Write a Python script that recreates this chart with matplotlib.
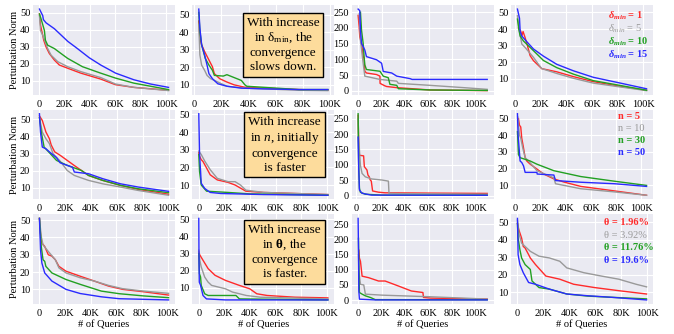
import matplotlib

matplotlib.use("Agg")
import matplotlib.pyplot as plt

# ---- dados: (consultas em milhares, norma da perturbação) ----
# linha 1: variação de delta_min
dmin_a_red = [(0, 49.4), (0.9, 42.6), (2.6, 36.8), (3.4, 33.9), (5.2, 30), (7.8, 26.1), (11.8, 22.2),
              (15.7, 19.3), (22.3, 17.4), (32.7, 14.5), (48.4, 11), (60, 7.7), (74.6, 6.1), (102, 4.4)]
dmin_a_gray = [(0, 48.4), (0.8, 39.7), (2.6, 36.8), (6.5, 29), (9.2, 25.1), (14.4, 21.3), (22.3, 18.3),
               (32.7, 15.4), (48.4, 11.9), (60, 8.1), (74.6, 6.1), (102, 4.2)]
dmin_a_green = [(0, 49.4), (1.3, 46.5), (3.9, 39.7), (4.7, 33.9), (6.5, 31), (11.8, 29), (17, 26.1),
                (22.3, 23.2), (34, 18.3), (48.4, 14.5), (60, 11.6), (74.6, 8.6), (102, 4.8)]
dmin_a_blue = [(0, 52.3), (2.6, 48.4), (3.1, 46.1), (5.2, 44.2), (11.8, 40.7), (22.3, 33.3), (30, 29),
               (39.3, 23.6), (48.4, 19.3), (60.2, 14.5), (74.6, 10.6), (87.7, 8.1), (102, 6.1)]

dmin_b_red = [(3.2, 46.5), (4, 36.8), (5.3, 32.9), (7.5, 29), (10.7, 24.2), (13.3, 20.3), (14.7, 16.4),
              (18.7, 13.5), (24, 11.6), (29.3, 10), (37.3, 8.6), (50.7, 8.1), (77.3, 7.3), (98.7, 6.9)]
dmin_b_gray = [(3.2, 44.6), (4, 27.1), (5.3, 21.3), (7.5, 18.3), (9.3, 15.4), (12, 13.5), (17.3, 11.6),
               (24, 9.2), (37.3, 8.1), (77.3, 6.9), (98.7, 6.7)]
dmin_b_green = [(3.2, 51.4), (4, 40.7), (5.3, 32.9), (8, 25.1), (10.7, 21.3), (13.3, 18.3), (14.7, 15.4),
                (21.3, 15), (24, 15.8), (34.7, 12.5), (37.3, 10), (38.7, 9.2), (50.7, 8.6), (77.3, 7.3),
                (98.7, 7.3)]
dmin_b_blue = [(3.2, 53.3), (4, 42.6), (5.3, 32.9), (7.5, 27.1), (9.3, 21.3), (10.7, 16.4), (13.3, 13.5),
               (17.3, 10.6), (24, 9.2), (34.7, 8.1), (50.7, 7.7), (77.3, 7.3), (98.7, 7.3)]

dmin_c_red = [(0, 240), (0.9, 203), (1.4, 172), (2.9, 151), (4.3, 109), (5.1, 104), (5.7, 62.5), (7.1, 57),
              (15.7, 52), (18.6, 47), (18.7, 24), (22.9, 16), (24.3, 14), (32.9, 10.4), (61.4, 3), (110, 1)]
dmin_c_gray = [(0.9, 245), (2, 161), (4.3, 88), (5.7, 47), (18.6, 36.5), (32.9, 31), (34.3, 24),
               (61.4, 17.7), (90, 10.4), (110, 5)]
dmin_c_green = [(2, 250), (2.9, 193), (4.3, 151), (5.1, 109), (5.7, 83), (7.1, 68), (18.6, 62.5),
                (21.4, 47), (25.7, 42), (27.1, 21), (32.9, 17.7), (34.3, 7), (61.4, 3), (110, 1.5)]
dmin_c_blue = [(0, 260), (1.4, 255), (2, 193), (2.9, 151), (4.3, 141), (5.7, 130), (7.1, 109), (15.7, 99),
               (20, 88), (21.4, 62), (28.6, 57), (32.9, 47), (44.3, 39), (46, 36.5), (110, 36.5)]

dmin_d_red = [(2.6, 40.6), (4.4, 38.7), (5.2, 35.8), (6.2, 38.5), (7.8, 34.8), (9.6, 30), (11.7, 24),
              (14.3, 21), (20.8, 16.2), (32.5, 14.3), (45.5, 11.4), (61, 8.4), (79.2, 5.9), (102.6, 3.2)]
dmin_d_gray = [(1.8, 48), (3.4, 38.7), (5.2, 31), (7.8, 28.9), (14.3, 23), (18.2, 18.8), (20.8, 16.2),
               (32.5, 13.3), (45.5, 10.4), (61, 7.5), (79.2, 5.5), (102.6, 3)]
dmin_d_green = [(1.8, 46), (2.9, 39.7), (3.9, 35.8), (6.5, 32.8), (14.3, 27), (22.1, 21.1), (32.5, 16.8),
                (45.5, 12.9), (61, 9), (79.2, 6.5), (102.6, 3.2)]
dmin_d_blue = [(1.8, 52), (3.4, 46.5), (3.9, 38.7), (5.2, 35.8), (9.1, 32.4), (14.3, 28), (22.1, 23.7),
               (32.5, 18.8), (45.5, 14.9), (61, 11), (79.2, 8), (102.6, 4.1)]

# linha 2: variação de n
n_a_red = [(0, 52), (2.2, 49.4), (5, 42.6), (7.7, 38.7), (9.1, 35), (11.8, 31), (16, 29), (21.5, 26),
           (27, 23), (32.5, 20.1), (38, 17.2), (49, 14.3), (62.8, 11.4), (76.6, 9), (100, 6.2)]
n_a_gray = [(0, 51), (2.2, 42.6), (5, 38.7), (7.7, 35.8), (10.5, 30), (16, 25.6), (21.5, 20.1), (27, 17.2),
            (38, 14.3), (49, 12.3), (62.8, 10.4), (76.6, 8.4), (100, 5.6)]
n_a_green = [(0, 51), (1.4, 42.6), (3.6, 33.8), (7.7, 30.5), (13.2, 26), (21.5, 23.1), (32.5, 20.1),
             (38, 17.2), (49, 14.3), (62.8, 11.4), (76.6, 9.4), (100, 7.1)]
n_a_blue = [(0, 53.3), (0.8, 42.6), (2.2, 33.8), (5, 32.8), (7.7, 31), (13.2, 27.6), (16, 24.6),
            (21.5, 23.1), (25.6, 22), (27, 19.2), (38, 18.2), (49, 15.3), (62.8, 12.3), (76.6, 10.4),
            (100, 7.9)]

n_b_red = [(0, 28.3), (0.6, 26.3), (1.9, 24.4), (3.3, 23.3), (6.1, 19.6), (8.9, 15.8), (14.4, 12.9),
           (22.8, 11.5), (28.3, 10), (36.7, 6.5), (50.6, 5.8), (100.6, 4.6)]
n_b_gray = [(0, 29.2), (1.9, 27.3), (4.7, 23.5), (8.9, 18.7), (14.4, 13.8), (22.8, 11.9), (28.3, 11.9),
            (32.5, 10), (36.7, 7.1), (50.6, 5.8), (100.6, 4.6)]
n_b_green = [(0, 27.3), (0.6, 17.7), (1.9, 10), (6.1, 6.5), (22.8, 5.8), (39.4, 5), (100.6, 4.2)]
n_b_blue = [(0, 50.4), (0.6, 27.3), (1.4, 17.7), (1.9, 11), (4.7, 8), (8.9, 5.8), (17.2, 5.2), (50.6, 4.6),
            (100.6, 4.2)]

n_c_red = [(1.7, 261), (2.2, 164), (2.8, 131), (6.3, 129), (6.9, 94), (9.1, 83), (9.9, 67), (11, 61),
           (11.8, 51), (12.7, 47), (13.8, 15), (18.7, 11), (24.2, 9), (62.8, 8), (109.6, 7)]
n_c_gray = [(1.7, 250), (2.2, 185), (3.6, 99), (5, 72), (7.7, 61), (13, 54), (21.5, 50.6), (27, 47),
            (27.5, 7.5), (35, 6.5), (109.6, 4.3)]
n_c_green = [(1.7, 266), (1.9, 185), (2.2, 99), (2.8, 23.7), (3.6, 10.8), (7.7, 4.3), (21.5, 1.5),
             (109.6, 1)]
n_c_blue = [(1.7, 190), (2.2, 88), (2.8, 18), (5, 7.5), (13, 1.5), (109.6, 1)]

n_d_red = [(2.7, 50), (3.5, 46), (4.5, 45), (5.3, 38.3), (6.7, 32.4), (8, 26.6), (9.3, 24.6), (12, 22.7),
           (17.3, 19.8), (22.7, 16.8), (30.7, 13.9), (38.7, 12), (52, 9.4), (78.7, 6.7), (104, 4.1)]
n_d_gray = [(2.1, 51), (3.5, 40.2), (4.5, 38.3), (6.1, 32.4), (8, 26.6), (10.7, 24.6), (17.3, 18.8),
            (30.7, 14.5), (32, 11), (38.7, 10), (52, 8), (78.7, 6.1), (104, 4.1)]
n_d_green = [(1.9, 42.2), (2.7, 28.5), (4, 26.6), (12, 24.6), (17.3, 22.7), (30.7, 18.8), (52, 15.3),
             (78.7, 12.5), (104, 10)]
n_d_blue = [(1.9, 52.9), (2.4, 40.2), (3.5, 29.5), (4, 24.6), (5.3, 23.7), (6.7, 21.7), (8, 17.8),
            (17.3, 17.8), (17.5, 16.8), (30.7, 16.2), (32, 12.9), (52, 11.9), (78.7, 11), (104, 9.4)]

# linha 3: variação de theta
th_a_red = [(0, 51), (0.8, 42.4), (1.9, 36.7), (4.1, 34.8), (6.9, 30), (9.7, 29.2), (12.4, 27.1),
            (15.2, 23.3), (20.7, 20.5), (31.8, 17.6), (42.8, 14.8), (53.9, 11.9), (64.9, 10),
            (81.5, 8.6), (100.8, 6.7)]
th_a_gray = [(0, 51), (1.4, 40.5), (2.8, 35.7), (6.9, 31.9), (12.4, 27.1), (15.2, 22.4), (20.7, 19.5),
             (31.8, 16.7), (42.8, 14.8), (53.9, 12.3), (64.9, 10.4), (81.5, 9), (100.8, 7.7)]
th_a_green = [(0, 51), (1.4, 34.8), (2.8, 27.1), (4.1, 26.2), (5, 23.3), (9.7, 19.5), (20.7, 15.7),
              (31.8, 12.9), (48.3, 9), (62.2, 7.5), (81.5, 6.2), (100.8, 5.2)]
th_a_blue = [(0, 51), (0.8, 32.9), (1.9, 25.2), (4.1, 19.5), (9.7, 14.8), (20.7, 10), (31.8, 7.6),
             (48.3, 5.7), (62.2, 4.6), (100.8, 3.9)]

th_b_red = [(0, 31), (0.8, 29.2), (3.3, 26.1), (7.3, 21.2), (12.7, 17.3), (20.9, 14.3), (31.7, 11.4),
            (39.8, 9.4), (45.3, 6.5), (53.4, 5.5), (75, 4.5), (100.8, 4.1)]
th_b_gray = [(0, 32), (0.8, 26.1), (1.9, 22.2), (4.6, 16.3), (7.3, 13.3), (10, 11.4), (20.9, 9.4),
             (26.3, 7.5), (37.1, 5.5), (48, 4.5), (100.8, 3.5)]
th_b_green = [(0, 30), (0.5, 18.2), (1.4, 16.3), (1.9, 11.4), (4.6, 6.5), (7.3, 5.5), (29, 5.5),
              (31.7, 3.5), (100.8, 2.9)]
th_b_blue = [(0, 50.6), (0.2, 24.1), (0.4, 13.3), (1.4, 11.4), (3.3, 5.5), (6, 3.5), (20.9, 2.9),
             (100.8, 2.9)]

th_c_red = [(0.6, 165), (1.1, 139), (2, 128), (3.4, 79), (9, 74), (17.4, 63), (23, 63), (34, 47),
            (45.4, 30), (55.2, 25), (55.7, 8.7), (62, 6.5), (110, 3.3)]
th_c_gray = [(0.3, 150), (0.6, 96), (2, 52), (4.8, 50), (6.2, 19.6), (20.2, 16.3), (62, 10.9), (110, 3.3)]
th_c_green = [(0.3, 204), (0.6, 117), (1.1, 25), (3.4, 19.6), (6.2, 14), (10.4, 8.7), (14.6, 1.5),
              (110, 1)]
th_c_blue = [(0, 270), (0.3, 172), (0.6, 30), (1.1, 3), (14.6, 0.5), (110, 0.5)]

th_d_red = [(0, 49.4), (1.1, 45.7), (3.2, 41), (4.5, 36.2), (5.9, 35.3), (8.6, 31.5), (9.9, 29.6),
            (13.9, 25.8), (21.9, 19.2), (32.6, 17.4), (43.3, 14.5), (59.4, 12.6), (78.1, 10.8),
            (99.5, 8.9)]
th_d_gray = [(0, 51.3), (1.1, 43.8), (3.2, 38.1), (5.9, 36.2), (9.9, 33.4), (16.6, 30.6), (24.6, 29.6),
             (32.6, 27.7), (38, 23.9), (51.3, 21.1), (64.7, 19.2), (78.1, 17.4), (91.4, 14.5),
             (99.5, 13)]
th_d_green = [(0, 49.4), (0.5, 41), (1.9, 34.3), (3.2, 29.6), (5.9, 25.8), (9.9, 23), (11.2, 16.4),
              (13.9, 14.5), (16.6, 12.6), (24.6, 11.7), (38, 8.9), (54, 7.7), (72.7, 7), (99.5, 6.1)]
th_d_blue = [(0, 52.3), (0.3, 41), (0.5, 31.5), (1.9, 25.8), (4.5, 21.1), (8.6, 15.5), (13.9, 14.5),
             (24.6, 11.7), (38, 8.9), (54, 7.9), (72.7, 7), (99.5, 5.5)]

# rótulos das legendas e caixas
leg_dmin = [r"$\mathbfit{\delta_{min}}$ = 1", r"$\delta_{min}$ = 5",
            r"$\mathbfit{\delta_{min}}$ = 10", r"$\mathbfit{\delta_{min}}$ = 15"]
leg_n = ["n = 5", "n = 10", "n = 30", "n = 50"]
leg_theta = ["θ = 1.96%", "θ = 3.92%", "θ = 11.76%", "θ = 19.6%"]
box_texts = [
    "With increase\nin $\\mathrm{\\delta}_{\\mathrm{min}}$, the\nconvergence\nslows down.",
    "With increase\nin $n$, initially\nconvergence\nis faster",
    "With increase\nin $\\mathbf{\\theta}$, the\nconvergence\nis faster.",
]

x_ticks = [0, 20, 40, 60, 80, 100]
x_labels = ["0", "20K", "40K", "60K", "80K", "100K"]

CORES = ["#ff2a2a", "#999999", "#22a022", "#2a2aff"]
PESOS = ["bold", "normal", "bold", "bold"]

plt.rcParams.update({
    "font.family": ["Liberation Serif", "DejaVu Serif"],
    "mathtext.fontset": "custom",
    "mathtext.rm": "Liberation Serif",
    "mathtext.it": "Liberation Serif:italic",
    "mathtext.bf": "Liberation Serif:bold",
    "mathtext.bfit": "Liberation Serif:italic:bold",
    "axes.facecolor": "#eaeaf2",
    "axes.edgecolor": "white",
    "axes.grid": True,
    "grid.color": "white",
    "grid.linewidth": 0.8,
    "xtick.major.size": 0,
    "ytick.major.size": 0,
    "xtick.major.pad": 3.5,
    "ytick.major.pad": 2,
    "font.size": 7.5,
})

paineis = [
    [(dmin_a_red, dmin_a_gray, dmin_a_green, dmin_a_blue),
     (dmin_b_red, dmin_b_gray, dmin_b_green, dmin_b_blue),
     (dmin_c_red, dmin_c_gray, dmin_c_green, dmin_c_blue),
     (dmin_d_red, dmin_d_gray, dmin_d_green, dmin_d_blue)],
    [(n_a_red, n_a_gray, n_a_green, n_a_blue),
     (n_b_red, n_b_gray, n_b_green, n_b_blue),
     (n_c_red, n_c_gray, n_c_green, n_c_blue),
     (n_d_red, n_d_gray, n_d_green, n_d_blue)],
    [(th_a_red, th_a_gray, th_a_green, th_a_blue),
     (th_b_red, th_b_gray, th_b_green, th_b_blue),
     (th_c_red, th_c_gray, th_c_green, th_c_blue),
     (th_d_red, th_d_gray, th_d_green, th_d_blue)],
]
legendas = [leg_dmin, leg_n, leg_theta]
leg_x = [0.68, 0.755, 0.657]
leg_y = [[0.88, 0.735, 0.59, 0.445], [0.92, 0.79, 0.655, 0.52], [0.91, 0.765, 0.625, 0.485]]
box_pos = [(0.64, 0.554), (0.65, 0.61), (0.65, 0.58)]

fig = plt.figure(figsize=(6.74, 3.34), dpi=100)
gs = fig.add_gridspec(3, 4, left=33 / 674, right=653 / 674, top=1 - 5 / 334, bottom=1 - 304 / 334,
                      wspace=0.122, hspace=0.167)

for i, linha in enumerate(paineis):
    for j, series in enumerate(linha):
        ax = fig.add_subplot(gs[i, j])
        for pts, cor in zip(series, CORES):
            xs = [p[0] for p in pts]
            ys = [p[1] for p in pts]
            ax.plot(xs, ys, color=cor, lw=1.0)
        for s in ax.spines.values():
            s.set_visible(False)
        ax.set_xticks(x_ticks)
        ax.set_xticklabels(x_labels)
        if j == 2:
            ax.set_yticks([0, 50, 100, 150, 200, 250])
        else:
            ax.set_yticks([10, 20, 30, 40, 50])
        ax.tick_params(labelsize=7.5)
        if j == 0:
            ax.set_ylabel("Perturbation Norm", fontsize=7.5, labelpad=0.5)
        if i == 2:
            ax.set_xlabel("# of Queries", fontsize=7.5, labelpad=2)
        if j == 1:
            bx, by = box_pos[i]
            ax.text(bx, by, box_texts[i], transform=ax.transAxes, ha="center", va="center",
                    fontsize=9.5, linespacing=1.2,
                    bbox=dict(boxstyle="square,pad=0.3", fc="#fddc9c", ec="black", lw=1.0))
        if j == 3:
            for k, txt in enumerate(legendas[i]):
                ax.text(leg_x[i], leg_y[i][k], txt, transform=ax.transAxes, ha="left", va="center",
                        color=CORES[k], fontsize=7.5, fontweight=PESOS[k])

fig.savefig("out.png", dpi=100)
